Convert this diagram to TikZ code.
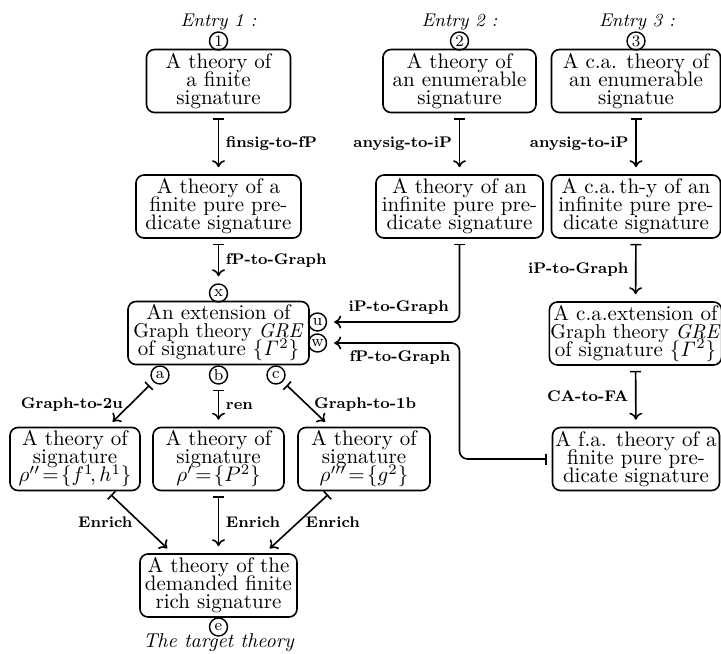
\RequirePackage{fix-cm}
\documentclass[tikz,border=0pt]{standalone}
\usepackage{tikz}
\usetikzlibrary{arrows.meta}
\newcommand{\boxfont}{\fontsize{10.5}{9}\selectfont\lineskiplimit-20pt\relax}

\begin{document}
\begin{tikzpicture}[x=0.5pt, y=-0.5pt, line width=0.8pt]
    \tikzstyle{theory} = [rectangle, draw, rounded corners=4pt, align=center, inner xsep=0.5pt, inner ysep=1.5pt, minimum height=31.5pt, font=\boxfont]
    \tikzstyle{port} = [circle, draw, line width=0.7pt, inner sep=0pt, minimum size=9pt, font=\fontsize{8}{8}\selectfont]
    \tikzstyle{entry} = [font=\fontsize{9.2}{10}\selectfont\itshape]
    \tikzstyle{conn} = [{Bar[width=5.5pt]}-{To[length=3.5pt, width=6.5pt]}, shorten <=2.5pt, shorten >=3.5pt]
    \tikzstyle{lbl} = [font=\fontsize{7.7}{9}\selectfont\bfseries]

    \useasboundingbox (0,0) rectangle (721,653);

    \node[entry] (en1) at (218.5,22) {Entry 1 :};
    \node[entry] (en2) at (459.5,22) {Entry 2 :};
    \node[entry] (en3) at (637,22) {Entry 3 :};

    \node[port] (p1) at (218.5,41) {1};
    \node[port] (p2) at (459.5,41) {2};
    \node[port] (p3) at (636,41) {3};

    \node[theory, minimum width=72pt] (fin) at (218.5,81) {A theory of\\ a finite\\ signature};
    \node[theory, minimum width=76.5pt] (enu) at (459.5,81) {A theory of\\ an enumerable\\ signature};
    \node[theory, minimum width=84.5pt] (caenu) at (636,81) {A c.a. theory of\\ an enumerable\\ signatue};

    \node[theory, minimum width=82.5pt] (finP) at (218.5,206.5) {A theory of a\\ finite pure pre-\\ dicate signature};
    \node[theory, minimum width=83.5pt] (infP) at (459.5,206.5) {A theory of an\\ infinite pure pre-\\ dicate signature};
    \node[theory, minimum width=84.5pt] (cainfP) at (636,206.5) {A c.a.\,th-y of an\\ infinite pure pre-\\ dicate signature};

    \node[port] (x) at (218.5,293) {x};
    \node[theory, minimum width=90.5pt] (gre) at (218.5,333) {An extension of\\ {\fontsize{10}{9}\selectfont Graph theory \textit{GRE}}\\ of signature $\{\mathit{\Gamma}^2\}$};
    \node[theory, minimum width=85pt] (cagre) at (635.5,333.5) {A c.a.extension of\\ {\fontsize{10}{9}\selectfont Graph theory \textit{GRE}}\\ of signature $\{\mathit{\Gamma}^2\}$};
    \node[port] (u) at (317.5,322) {u};
    \node[port] (w) at (317.5,343) {w};
    \node[port] (a) at (160,375) {a};
    \node[port] (b) at (218.5,375) {b};
    \node[port] (c) at (276,375) {c};

    \node[theory, minimum width=65pt] (sig2u) at (75,459) {A theory of\\ signature\\ $\rho''\!=\!\{f^1\!,h^1\}$};
    \node[theory, minimum width=65.5pt] (sigP) at (218.5,459) {A theory of\\ signature\\ $\rho'\!=\!\{P^2\}$};
    \node[theory, minimum width=66pt] (sig1b) at (364,459) {A theory of\\ signature\\ $\rho'''\!=\!\{g^2\}$};
    \node[theory, minimum width=83.5pt] (fa) at (636,459) {A f.a. theory of a\\ finite pure pre-\\ dicate signature};

    \node[theory, minimum width=78.5pt] (rich) at (218.5,585.5) {A theory of the\\ demanded finite\\ rich signature};
    \node[port] (e) at (218.5,627) {e};
    \node[entry, font=\fontsize{10}{11}\selectfont\itshape] (target) at (218.5,643) {The target theory};

    \draw[conn] (fin) -- node[lbl, right] {finsig-to-fP} (finP);
    \draw[conn] (enu) -- node[lbl, left] {anysig-to-iP} (infP);
    \draw[conn] (caenu) -- node[lbl, left] {anysig-to-iP} (cainfP);
    \draw[conn] (finP) -- node[lbl, right] {fP-to-Graph} (x);
    \draw[conn] (cainfP) -- node[lbl, left] {iP-to-Graph} (cagre);
    \draw[conn] (cagre) -- node[lbl, left] {CA-to-FA} (fa);
    \draw[conn, rounded corners=4pt] (infP) |- node[lbl, pos=0.73, above] {iP-to-Graph} (u);
    \draw[conn, rounded corners=4pt] (fa) -| (infP.south |- w) -- node[lbl, pos=0.45, below] {fP-to-Graph} (w);
    \draw[conn] (a) -- node[lbl, left] {Graph-to-2u} (sig2u);
    \draw[conn] (b) -- node[lbl, right] {ren} (sigP);
    \draw[conn] (c) -- node[lbl, right] {Graph-to-1b} (sig1b);
    \draw[conn] (sig2u.-45) -- node[lbl, left] {Enrich} (rich.145);
    \draw[conn] (sigP) -- node[lbl, right] {Enrich} (rich);
    \draw[conn] (sig1b.-135) -- node[lbl, right] {Enrich} (rich.35);
\end{tikzpicture}
\end{document}
